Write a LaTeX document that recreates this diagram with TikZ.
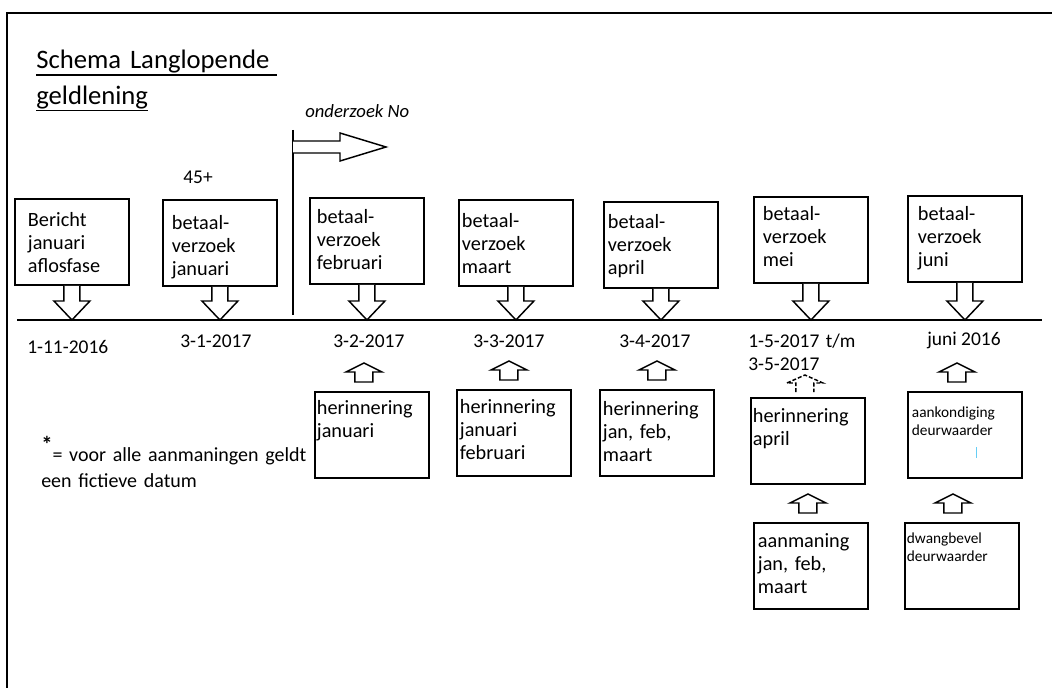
\documentclass[tikz,border=0pt]{standalone}
\usepackage{fontspec}
\setmainfont{Carlito}
\usetikzlibrary{positioning, calc}
\newcommand{\titlefont}{\fontsize{20}{26.5}\selectfont}
\newcommand{\boxfont}{\fontsize{15.2}{16.9}\selectfont}
\newcommand{\smallboxfont}{\fontsize{11.5}{13}\selectfont}
\newcommand{\datefont}{\fontsize{14.6}{17.25}\selectfont}
\newcommand{\titleline}[1]{\leavevmode\setbox0=\hbox{#1}\rlap{\rule[-5pt]{\wd0}{1.1pt}}\box0}
\tikzset{
    box/.style 2 args={rectangle, draw=black, line width=1.4pt, anchor=north west, inner sep=0pt, minimum width=85.5pt, minimum height=64.5pt, align=left, text width={85.5pt-2*#1}, text height=#2, text depth={64.5pt-#2}, font=\boxfont},
    sbox/.style 2 args={box={#1}{#2}, font=\smallboxfont},
    date/.style={anchor=base west, inner sep=0pt, font=\datefont},
    blk/.style={draw=black, line width=1.1pt, fill=white, line join=miter},
    tline/.style={line width=1.4pt},
}
% hollow arrow from a box down to the time line
\newcommand{\dnarrow}[1]{%
  \draw[blk] ($(#1.south)+(-8,0)$) -- ($(#1.south |- tlL)+(-8,-19)$) -- ++(-10,0) -- (#1.south |- tlL) -- ++(18,-19) -- ++(-10,0) -- ($(#1.south)+(8,0)$);}
% small hollow arrow above a box
\newcommand{\uparr}[2]{%
  \draw[blk] ($(#1.north)+(#2-9,-9)$) -- ++(0,-10) -- ++(-9,0) -- ++(18,-9) -- ++(18,9) -- ++(-9,0) -- ++(0,10) -- cycle;}
\begin{document}
\begin{tikzpicture}[x=0.75pt, y=-0.75pt]
    \useasboundingbox (0,0) rectangle (1052,688);
    % frame
    \draw[line width=1.5pt] (7,688) -- (7,13) -- (1052,13);
    % title
    \node[anchor=base west, inner sep=0pt, text width=260pt, align=left, font=\titlefont] (title) at (36,69) {\titleline{Schema Langlopende\hspace{6pt}}\\\titleline{geldlening}};
    % time line
    \coordinate (tlL) at (17,320);
    \coordinate (tlR) at (1042,320);
    \draw[tline] (tlL) -- (tlR);
    % onderzoek
    \node[anchor=base west, inner sep=0pt, font=\fontsize{14}{17}\selectfont\itshape] (onderzoek) at (305,118) {onderzoek No};
    \coordinate (vtop) at (293,130);
    \coordinate (vbot) at (293,315);
    \draw[tline] (vtop) -- (vbot);
    \draw[blk] ($(vtop)+(0,11)$) -- ++(47,0) -- ++(0,-8) -- ++(46,14) -- ++(-46,14) -- ++(0,-8) -- ++(-47,0);
    \node[date] (plus) at (183,183) {45+};
    % betaalverzoeken
    \node[box={9.75pt}{21pt}] (bericht) at (14,198) {Bericht\\januari\\aflosfase};
    \node[box={6.75pt}{22.5pt}] (bvjan) at (162,199) {betaal-\\verzoek\\januari};
    \node[box={5.25pt}{19.5pt}] (bvfeb) at (309,197) {betaal-\\verzoek\\februari};
    \node[box={2.25pt}{21pt}] (bvmrt) at (458,199) {betaal-\\verzoek\\maart};
    \node[box={3pt}{20.25pt}] (bvapr) at (603,201) {betaal-\\verzoek\\april};
    \node[box={6.75pt}{18pt}] (bvmei) at (753,196) {betaal-\\verzoek\\mei};
    \node[box={7.5pt}{18.75pt}] (bvjun) at (907,195) {betaal-\\verzoek\\juni};
    \dnarrow{bericht}
    \dnarrow{bvjan}
    \dnarrow{bvfeb}
    \dnarrow{bvmrt}
    \dnarrow{bvapr}
    \dnarrow{bvmei}
    \dnarrow{bvjun}
    % dates
    \node[date] (d1) at (27,353) {1-11-2016};
    \node[date] (d2) at (180,347) {3-1-2017};
    \node[date] (d3) at (333,347) {3-2-2017};
    \node[date] (d4) at (473,347) {3-3-2017};
    \node[date] (d5) at (619,347) {3-4-2017};
    \node[date, text width=90pt, align=left] (d6) at (748,347) {1-5-2017 t/m\\3-5-2017};
    \node[date] (d7) at (927,345) {juni 2016};
    % herinneringen
    \node[box={1.5pt}{17.25pt}] (hjan) at (314,391) {herinnering\\januari};
    \node[box={2.25pt}{18pt}] (hfeb) at (456,389) {herinnering\\januari\\februari};
    \node[box={2.25pt}{19.5pt}] (hmrt) at (599,389) {herinnering\\jan, feb,\\maart};
    \node[box={1.5pt}{18.75pt}] (hapr) at (750,397) {herinnering\\april};
    \node[sbox={3pt}{19.5pt}] (aank) at (907,391) {aankondiging\\deurwaarder};
    \node[box={3pt}{18.75pt}] (aanm) at (753,522) {aanmaning\\jan, feb,\\maart};
    \node[sbox={1.5pt}{15.75pt}] (dwang) at (904,522) {dwangbevel\\deurwaarder};
    \uparr{hjan}{-8}
    \uparr{hfeb}{-5}
    \uparr{hmrt}{0}
    \uparr{aank}{-8}
    \uparr{aanm}{-3}
    \uparr{dwang}{-9}
    \draw[blk, fill=none, dash pattern=on 3pt off 1.5pt] ($(hapr.north)+(-12,-5)$) -- ++(0,-9) -- ++(-9,0) -- ++(18,-8) -- ++(18,8) -- ++(-9,0) -- ++(0,9);
    \draw[cyan!60, line width=0.6pt] ($(aank.north west)+(69,56)$) -- ++(0,11);
    % footnote
    \node[anchor=base west, inner sep=0pt, text width=300pt, align=left, font=\fontsize{15}{19.5}\selectfont] (note) at (41,461) {\raisebox{6.5pt}{\fontsize{17}{17}\selectfont\bfseries *}= voor alle aanmaningen geldt\\een fictieve datum};
\end{tikzpicture}
\end{document}
